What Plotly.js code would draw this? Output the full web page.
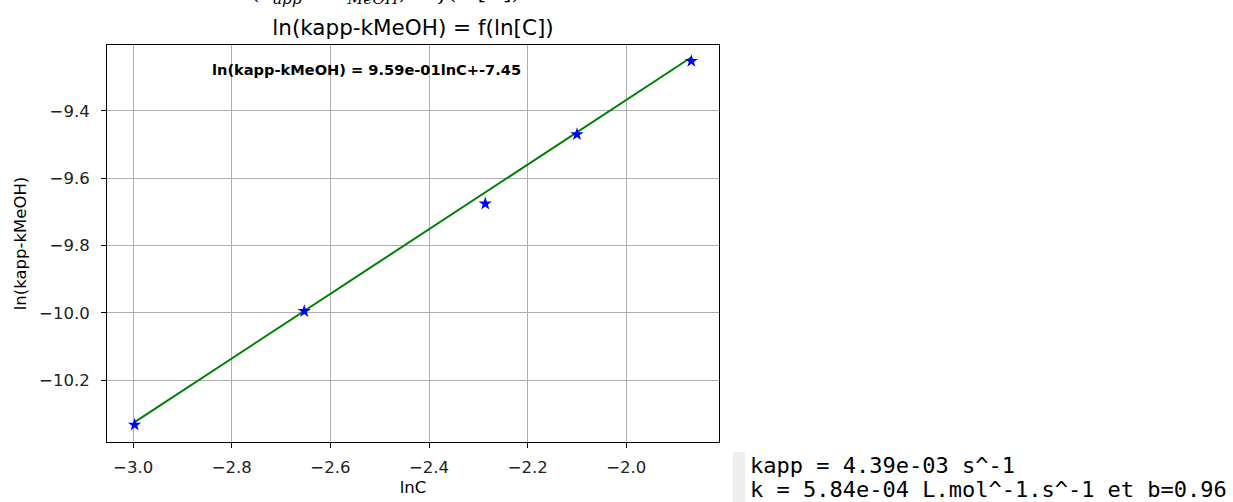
<!DOCTYPE html>
<html>
<head>
<meta charset="utf-8">
<script src="https://cdn.plot.ly/plotly-3.0.1.min.js"></script>
<style>
html,body{margin:0;padding:0;background:#fff;overflow:hidden;}
#chart{width:1233px;height:502px;}
</style>
</head>
<body>
<div id="chart"></div>
<script>
// Data
const lnC = [-2.997, -2.653, -2.286, -2.100, -1.868];
const lnK = [-10.332, -9.995, -9.676, -9.470, -9.253];
// Fit parameters as shown in the chart annotation
const slope = 0.959;
const intercept = -7.45;
const fitX = [lnC[0], lnC[lnC.length - 1]];
const fitY = fitX.map(x => slope * x + intercept);

const xTicks = [-3.0, -2.8, -2.6, -2.4, -2.2, -2.0];
const yTicks = [-10.2, -10.0, -9.8, -9.6, -9.4];

const fitText = 'ln(kapp-kMeOH) = 9.59e-01lnC+-7.45';
const outLines = ['kapp = 4.39e-03 s^-1', 'k = 5.84e-04 L.mol^-1.s^-1 et b=0.96'];
const topCutText = '(<i>k<sub>app</sub></i> \u2212 <i>k<sub>MeOH</sub></i>) = <i>f</i>(ln[<i>C</i>])';

const font = 'DejaVu Sans, sans-serif';
const W = 1233, H = 502, L = 107, R = 719, T = 45, B = 442;
const px = x => (x - L) / (R - L);
const py = y => 1 - (y - T) / (B - T);

const traces = [
  {x: fitX, y: fitY, mode: 'lines', line: {color: '#008000', width: 2}, hoverinfo: 'skip'},
  {x: lnC, y: lnK, mode: 'markers', marker: {symbol: 'star', color: '#0000ff', size: 10}}
];

const layout = {
  width: W, height: H,
  margin: {l: L, r: W - R, t: T, b: H - B},
  paper_bgcolor: '#fff', plot_bgcolor: '#fff',
  showlegend: false,
  font: {family: font, color: '#000', size: 16},
  title: {text: 'ln(kapp-kMeOH) = f(ln[C])', font: {family: font, size: 21.5, color: '#000'},
          x: 413/W, xanchor: 'center', y: 1 - 27/H, yanchor: 'middle'},
  xaxis: {
    range: [-3.053, -1.812], tickvals: xTicks, ticktext: xTicks.map(v => v.toFixed(1).replace('-', '\u2212')),
    showgrid: true, gridcolor: '#b0b0b0', gridwidth: 1,
    ticks: 'outside', ticklen: 5, tickcolor: '#000', tickwidth: 1, ticklabelstandoff: 5,
    showline: true, linecolor: '#000', linewidth: 1, mirror: true, zeroline: false,
    tickfont: {family: font, size: 16.5, color: '#222'},
    title: {text: 'lnC', font: {family: font, size: 16.5, color: '#000'}, standoff: 5}
  },
  yaxis: {
    range: [-10.383, -9.205], tickvals: yTicks, ticktext: yTicks.map(v => v.toFixed(1).replace('-', '\u2212')),
    showgrid: true, gridcolor: '#b0b0b0', gridwidth: 1,
    ticks: 'outside', ticklen: 5, tickcolor: '#000', tickwidth: 1, ticklabelstandoff: 8,
    showline: true, linecolor: '#000', linewidth: 1, mirror: true, zeroline: false,
    tickfont: {family: font, size: 16.5, color: '#222'},
    title: {text: 'ln(kapp-kMeOH)', font: {family: font, size: 16.5, color: '#000'}, standoff: 8}
  },
  annotations: [
    {text: '<b>' + fitText + '</b>', xref: 'paper', yref: 'paper',
     x: px(366), y: py(69), xanchor: 'center', yanchor: 'middle',
     showarrow: false, font: {family: font, size: 14.6, color: '#000'}},
    {text: outLines[0], xref: 'paper', yref: 'paper',
     x: px(748), y: py(466), xanchor: 'left', yanchor: 'middle',
     showarrow: false, font: {family: 'DejaVu Sans Mono, monospace', size: 22, color: '#000'}},
    {text: outLines[1], xref: 'paper', yref: 'paper',
     x: px(748), y: py(489), xanchor: 'left', yanchor: 'middle',
     showarrow: false, font: {family: 'DejaVu Sans Mono, monospace', size: 22, color: '#000'}},
    {text: topCutText, xref: 'paper', yref: 'paper',
     x: px(385), y: py(-6), xanchor: 'center', yanchor: 'middle',
     showarrow: false, font: {family: 'DejaVu Serif, serif', size: 22, color: '#000'}}
  ],
  shapes: [
    {type: 'rect', xref: 'paper', yref: 'paper', x0: px(733), x1: px(745),
     y0: py(502), y1: py(452), fillcolor: '#eeeeee', line: {width: 0}, layer: 'above'}
  ]
};

Plotly.newPlot('chart', traces, layout, {displayModeBar: false, staticPlot: true});
</script>
</body>
</html>
